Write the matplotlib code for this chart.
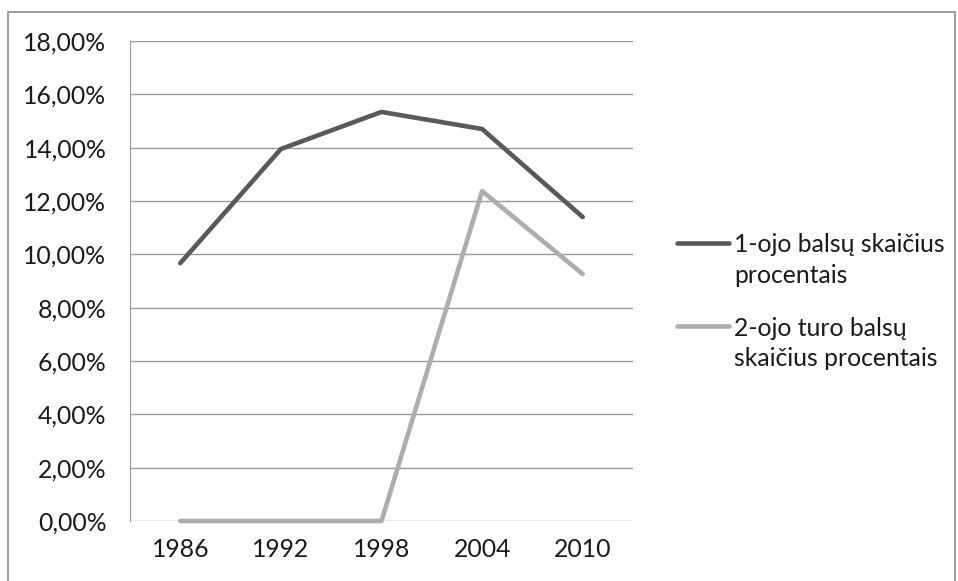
import matplotlib
matplotlib.use('Agg')
import matplotlib.pyplot as plt
from matplotlib.lines import Line2D
from matplotlib.patches import Rectangle
from matplotlib.ticker import FuncFormatter

'''duomenys'''
years = ['1986', '1992', '1998', '2004', '2010']
round1 = [9.67, 13.95, 15.34, 14.70, 11.40]
round2 = [0.0, 0.0, 0.0, 12.37, 9.26]
labels = [['1-ojo balsų skaičius', 'procentais'], ['2-ojo turo balsų', 'skaičius procentais']]
colors = ['#595959', '#adadad']

plt.rcParams['font.family'] = ['Lato', 'DejaVu Sans']

W, H = 958, 581
fig = plt.figure(figsize=(W / 100, H / 100), dpi=100)

# outer chart frame
fig.add_artist(Rectangle((8 / W, -0.1), (955 - 8) / W, 1.1 - 12 / H,
                         transform=fig.transFigure, facecolor='none',
                         edgecolor='#8c8c8c', linewidth=1.2))

ax = fig.add_axes([130 / W, (H - 521) / H, 503 / W, 480 / H])

x = range(len(years))
ax.plot(x, round1, color=colors[0], linewidth=3.3, solid_capstyle='round', zorder=3)
ax.plot(x, round2, color=colors[1], linewidth=3.3, solid_capstyle='round',
        clip_on=False, zorder=3)

ax.set_xlim(-0.5, len(years) - 0.5)
ax.set_ylim(0, 18)
ax.set_yticks(range(0, 19, 2))
ax.yaxis.set_major_formatter(FuncFormatter(lambda v, p: f'{v:.2f}%'.replace('.', ',')))
ax.set_xticks(list(x))
ax.set_xticklabels(years)

ax.grid(axis='y', color='#9a9a9a', linewidth=1.0)
ax.set_axisbelow(True)
for s in ['top', 'right', 'bottom']:
    ax.spines[s].set_visible(False)
ax.spines['left'].set_color('#9a9a9a')
ax.tick_params(length=0, labelsize=17.8, colors='#1a1a1a')
ax.tick_params(axis='y', pad=17)
ax.tick_params(axis='x', pad=12)

# legend (key + two text lines each)
key_y = [243, 326]
base_y = [[252, 283], [336, 366]]
for c, lab, ky, by in zip(colors, labels, key_y, base_y):
    fig.add_artist(Line2D([677 / W, 729 / W], [1 - ky / H, 1 - ky / H],
                          transform=fig.transFigure, color=c, linewidth=3.3,
                          solid_capstyle='round'))
    for t, yy in zip(lab, by):
        fig.text(734 / W, 1 - yy / H, t, fontsize=17.8, color='#1a1a1a',
                 va='baseline', ha='left')

fig.savefig('out.png', dpi=100)
